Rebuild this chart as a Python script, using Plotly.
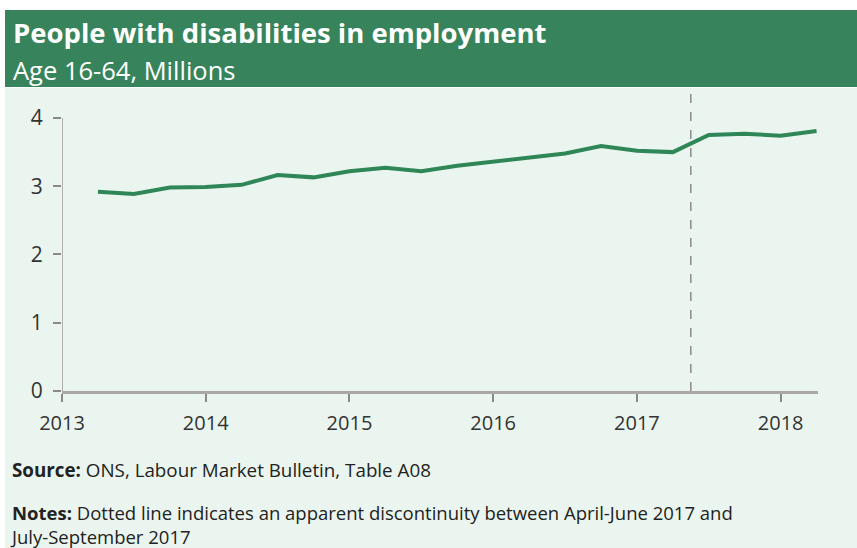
import plotly.graph_objects as go

# ---- data ----
quarters = [2013.25, 2013.5, 2013.75, 2014.0, 2014.25, 2014.5, 2014.75,
            2015.0, 2015.25, 2015.5, 2015.75, 2016.0, 2016.25, 2016.5,
            2016.75, 2017.0, 2017.25, 2017.5, 2017.75, 2018.0, 2018.25]
employed_millions = [2.92, 2.885, 2.98, 2.99, 3.02, 3.165, 3.13,
                     3.22, 3.27, 3.22, 3.30, 3.36, 3.42, 3.48,
                     3.59, 3.52, 3.50, 3.75, 3.77, 3.74, 3.81]
x_ticks = [2013, 2014, 2015, 2016, 2017, 2018]
y_ticks = [0, 1, 2, 3, 4]
discontinuity_x = 2017.375

# ---- layout geometry (pixels) ----
W, H = 857, 548
ML, MR, MT, MB = 62, 39, 90, 157
PW, PH = W - ML - MR, H - MT - MB

def px(x):
    return (x - ML) / PW

def py(y):
    return 1 - (y - MT) / PH

DARK = "#37845c"
LIGHT = "#ebf5ef"
LINE = "#2f8657"
FONT = "Open Sans"

fig = go.Figure()
fig.add_trace(go.Scatter(x=quarters, y=employed_millions, mode="lines",
                         line=dict(color=LINE, width=4), hoverinfo="skip"))

shapes = [
    dict(type="rect", xref="paper", yref="paper", x0=px(5), x1=px(W), y0=py(88), y1=py(H),
         fillcolor=LIGHT, line=dict(width=0), layer="below"),
    dict(type="rect", xref="paper", yref="paper", x0=px(5), x1=px(W), y0=py(10), y1=py(87),
         fillcolor=DARK, line=dict(width=0), layer="below"),
    dict(type="line", xref="x", yref="y", x0=x_ticks[0], x1=x_ticks[0], y0=y_ticks[0], y1=y_ticks[-1],
         line=dict(color="#9a9a9a", width=1.5)),
    dict(type="line", xref="x", yref="paper", x0=discontinuity_x, x1=discontinuity_x, y0=0, y1=1,
         line=dict(color="#8a8a8a", width=1.5, dash="dash")),
]

annotations = [
    dict(xref="paper", yref="paper", x=px(11), y=py(32), xanchor="left", yanchor="middle",
         text="<b>People with disabilities in employment</b>", showarrow=False,
         font=dict(family=FONT, size=27.5, color="white")),
    dict(xref="paper", yref="paper", x=px(11), y=py(70), xanchor="left", yanchor="middle",
         text="Age 16-64, Millions", showarrow=False,
         font=dict(family=FONT, size=25.5, color="white")),
    dict(xref="paper", yref="paper", x=px(10), y=py(470), xanchor="left", yanchor="middle",
         text="<b>Source:</b> ONS, Labour Market Bulletin, Table A08", showarrow=False,
         font=dict(family=FONT, size=18.8, color="#222")),
    dict(xref="paper", yref="paper", x=px(8), y=py(524), xanchor="left", yanchor="middle",
         align="left",
         text="<b>Notes:</b> Dotted line indicates an apparent discontinuity between April-June 2017 and<br>July-September 2017",
         showarrow=False, font=dict(family=FONT, size=18.5, color="#222")),
]

fig.update_layout(
    width=W, height=H,
    margin=dict(l=ML, r=MR, t=MT, b=MB),
    paper_bgcolor="white", plot_bgcolor=LIGHT,
    showlegend=False,
    shapes=shapes, annotations=annotations,
    font=dict(family=FONT, color="#333"),
    xaxis=dict(range=[2013, 2018.26], tickvals=x_ticks, ticktext=[str(t) for t in x_ticks],
               showgrid=False, zeroline=False, showline=True, linecolor="#a8a8a8", linewidth=2.5,
               ticks="outside", ticklen=8, tickcolor="#8a8a8a", tickwidth=1.5,
               ticklabelstandoff=4,
               tickfont=dict(family=FONT, size=20, color="#333")),
    yaxis=dict(range=[0, 4.41], tickvals=y_ticks, showgrid=False, zeroline=False, showline=False,
               ticks="outside", ticklen=8, tickcolor="#8a8a8a", tickwidth=1.5,
               ticklabelstandoff=6,
               tickfont=dict(family=FONT, size=21, color="#333")),
)

fig.write_html("out.html", config={"displayModeBar": False},
               post_script="document.body.style.margin='0';document.body.style.overflow='hidden';")
